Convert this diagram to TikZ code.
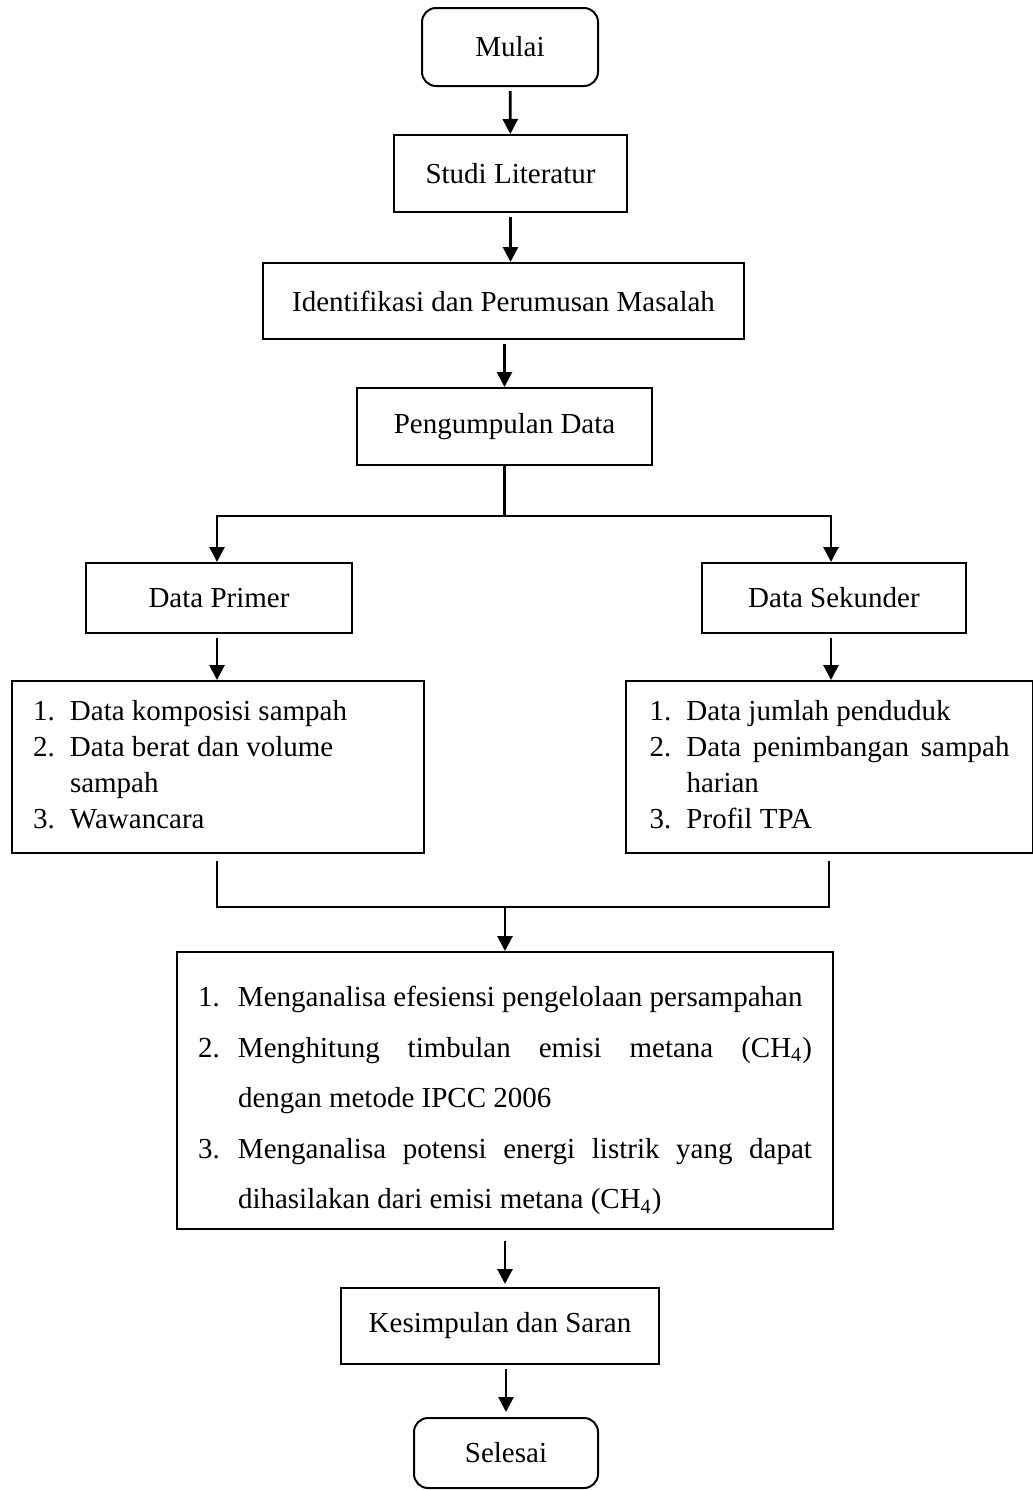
\documentclass[tikz,border=0pt]{standalone}
\usepackage{fontspec}
\setmainfont{Liberation Serif}
\usetikzlibrary{arrows.meta}

\begin{document}
\begin{tikzpicture}[x=0.5pt, y=-0.5pt]
\useasboundingbox (0, 0) rectangle (1033, 1490);
\begin{scope}[
    every node/.style={rectangle,draw=black,line width=1pt,inner sep=0pt,
                       font=\fontsize{14.5}{18}\selectfont}]
    \node (1) at (510, 47) [rounded corners=7pt,minimum width=88pt,minimum height=39pt] {Mulai};
    \node (2) at (510.5, 173.5) [minimum width=116.5pt,minimum height=38.5pt] {Studi Literatur};
    \node (3) at (503.5, 301) [minimum width=240.5pt,minimum height=38pt] {Identifikasi dan Perumusan Masalah};
    \node (4) at (504.5, 426.5) [minimum width=147.5pt,minimum height=38.5pt] {Pengumpulan Data};

    % % data
    \node (5) at (219, 598) [minimum width=133pt,minimum height=35pt] {Data Primer};
    \node (6) at (834, 598) [minimum width=132pt,minimum height=35pt] {Data Sekunder};
    \node (7) at (218, 767) [minimum width=206pt,minimum height=86pt] {%
      \begin{tabular}{@{}p{18.5pt}@{}p{166.5pt}@{}}
        1. & Data komposisi sampah\\
        2. & Data berat dan volume\\
           & sampah\\
        3. & Wawancara
      \end{tabular}};
    \node (8) at (829.5, 767) [minimum width=203.5pt,minimum height=86pt] {%
      \begin{tabular}{@{}p{18.5pt}@{}p{161.5pt}@{}}
        1. & Data jumlah penduduk\\
        2. & \makebox[161.5pt][s]{Data penimbangan sampah}\\
           & harian\\
        3. & Profil TPA
      \end{tabular}};

    % % analisa
    \node (9) at (505, 1090.5) [minimum width=328pt,minimum height=138.5pt,
                                font=\fontsize{14.5}{25.3}\selectfont] {%
      \begin{tabular}{@{}p{20pt}@{}p{287pt}@{}}
        1. & Menganalisa efesiensi pengelolaan persampahan\\
        2. & \makebox[287pt][s]{Menghitung timbulan emisi metana (CH\textsubscript{4})}\\
           & dengan metode IPCC 2006\\
        3. & \makebox[287pt][s]{Menganalisa potensi energi listrik yang dapat}\\
           & dihasilakan dari emisi metana (CH\textsubscript{4})\\[-7pt]
      \end{tabular}};
    \node (10) at (500, 1326) [minimum width=159pt,minimum height=38pt] {Kesimpulan dan Saran};
    \node (11) at (506, 1453) [rounded corners=7pt,minimum width=92pt,minimum height=35pt] {Selesai};
\end{scope}

\begin{scope}[>={Triangle[width=7.5pt,length=7.5pt]},
              line width=1.4pt, shorten <=2pt]
    \coordinate (a) at (504.5, 516);
    \coordinate (b) at (217, 516);
    \coordinate (c) at (831, 516);
    \coordinate (d) at (217, 907);
    \coordinate (e) at (829, 907);
    \coordinate (f) at (505, 907);

    \draw [->] (1) -- (2);
    \draw [->] (2.south) -- (2.south |- 3.north);
    \draw [->] (4.north |- 3.south) -- (4.north);

    \draw [shorten <=0pt] (4.south) -- (a);
    \draw [<->,shorten <=0pt] (b |- 5.north) -- (b) -- (c) -- (c |- 6.north);
    \draw [->] (5.south -| b) -- (b |- 7.north);
    \draw [->] (6.south -| c) -- (c |- 8.north);

    \draw [shorten <=3.5pt,shorten >=3.5pt] (7.south -| d) -- (d) -- (e) -- (8.south -| e);
    \draw [->,shorten <=0pt] (f) -- (f |- 9.north);
    \draw [->,shorten <=5.5pt,shorten >=1.5pt] (f |- 9.south) -- (f |- 10.north);
    \draw [->,shorten >=2.5pt] (11.north |- 10.south) -- (11.north);
\end{scope}
\end{tikzpicture}
\end{document}
